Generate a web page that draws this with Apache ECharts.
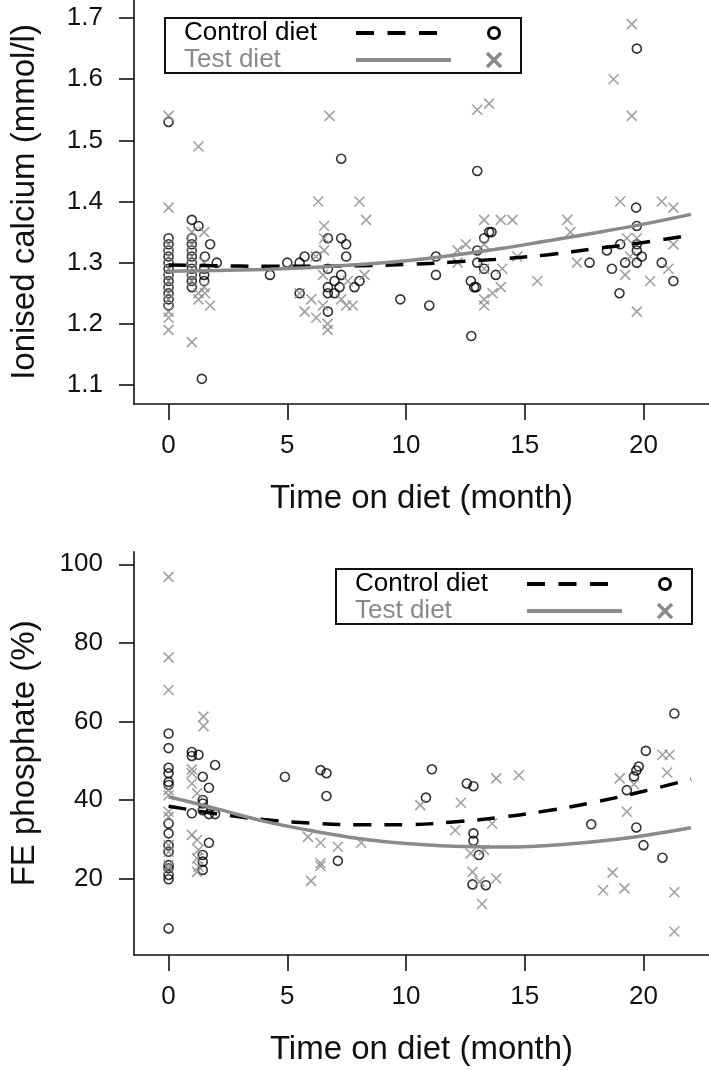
<!DOCTYPE html>
<html><head><meta charset="utf-8">
<script src="https://cdn.jsdelivr.net/npm/echarts@6/dist/echarts.min.js"></script>
<style>html,body{margin:0;padding:0;background:#fff}#c{width:709px;height:1070px}</style>
</head><body><div id="c"></div>
<script>
// ---------- DATA ----------
const xTicks = [0, 5, 10, 15, 20];
const caTicks = [1.1, 1.2, 1.3, 1.4, 1.5, 1.6, 1.7];
const fepTicks = [20, 40, 60, 80, 100];
const seriesNames = ['Control diet', 'Test diet'];
const xTitle = 'Time on diet (month)';
const caTitle = 'Ionised calcium (mmol/l)';
const fepTitle = 'FE phosphate (%)';

// Ionised calcium, control diet (month, mmol/l)
const caControl = [
  [0,1.53],[0,1.34],[0,1.33],[0,1.32],[0,1.31],[0,1.30],[0,1.29],[0,1.28],[0,1.27],[0,1.26],[0,1.25],[0,1.24],[0,1.23],
  [0.98,1.37],[1.26,1.36],[0.98,1.34],[0.98,1.33],[0.98,1.32],[0.98,1.31],[0.98,1.30],[0.98,1.29],[0.98,1.28],[0.98,1.27],[0.98,1.26],
  [1.4,1.11],[1.53,1.31],[1.75,1.33],[2.03,1.30],[1.5,1.29],[1.5,1.28],[1.5,1.27],
  [4.27,1.28],[5.0,1.30],[5.52,1.30],[5.73,1.31],[5.52,1.25],[6.22,1.31],[6.71,1.34],[6.71,1.29],[6.71,1.26],[6.71,1.25],[6.71,1.22],
  [6.99,1.27],[6.99,1.25],[7.27,1.47],[7.27,1.34],[7.48,1.33],[7.48,1.31],[7.27,1.28],[7.2,1.26],[7.83,1.26],[8.04,1.27],
  [9.76,1.24],[10.98,1.23],[11.26,1.28],[11.26,1.31],[12.75,1.18],[12.73,1.27],[12.87,1.26],[12.95,1.26],[13.0,1.32],[13.0,1.30],
  [13.0,1.45],[13.29,1.34],[13.5,1.35],[13.6,1.35],[13.78,1.28],[13.29,1.29],
  [17.73,1.30],[18.46,1.32],[18.67,1.29],[18.99,1.25],[19.02,1.33],[19.23,1.30],[19.72,1.65],[19.69,1.39],[19.72,1.36],
  [19.72,1.33],[19.72,1.32],[19.93,1.31],[19.72,1.30],[20.77,1.30],[21.26,1.27]
];
// Ionised calcium, test diet
const caTest = [
  [0,1.54],[0,1.39],[0,1.33],[0,1.31],[0,1.29],[0,1.27],[0,1.25],[0,1.24],[0,1.22],[0,1.21],[0,1.19],
  [1.26,1.49],[0.98,1.35],[0.98,1.33],[0.98,1.31],[0.98,1.29],[0.98,1.27],[0.98,1.17],[1.26,1.25],[1.26,1.24],
  [1.5,1.35],[1.5,1.30],[1.5,1.26],[1.53,1.25],[1.75,1.23],
  [5.52,1.25],[6.01,1.24],[5.73,1.22],[6.22,1.21],[6.3,1.40],[6.78,1.54],[6.55,1.36],[6.55,1.34],[6.55,1.32],[6.2,1.31],
  [6.5,1.28],[6.5,1.23],[6.7,1.20],[6.7,1.19],[7.27,1.24],[7.48,1.23],[7.76,1.23],[7.55,1.27],[8.25,1.28],[8.04,1.40],[8.32,1.37],
  [12.17,1.32],[12.52,1.33],[12.17,1.30],[13.0,1.55],[13.5,1.56],[13.29,1.37],[13.99,1.37],[14.48,1.37],[13.29,1.33],
  [13.29,1.29],[13.29,1.24],[13.29,1.23],[13.64,1.25],[13.99,1.26],[14.05,1.29],[14.69,1.31],[15.53,1.27],[16.79,1.37],
  [16.92,1.35],[17.2,1.30],
  [18.74,1.60],[19.51,1.69],[19.51,1.54],[19.02,1.40],[19.3,1.34],[19.72,1.34],[19.44,1.31],[19.23,1.28],[19.72,1.22],
  [20.28,1.27],[20.77,1.40],[21.26,1.39],[21.05,1.29],[21.26,1.33]
];
// fitted trends (read at every 2 months)
const fitMonths = [0, 2, 4, 6, 8, 10, 12, 14, 16, 18, 20, 22];
const caControlFit = [1.296, 1.295, 1.294, 1.294, 1.295, 1.297, 1.301, 1.306, 1.313, 1.323, 1.333, 1.345];
const caTestFit    = [1.286, 1.287, 1.289, 1.292, 1.297, 1.303, 1.312, 1.323, 1.336, 1.349, 1.363, 1.379];

// FE phosphate, control diet (month, %)
const fepControl = [
  [0,56.9],[0,53.2],[0,48.2],[0,46.8],[0,44.6],[0,43.8],[0,34.0],[0,31.5],[0,28.5],[0,26.8],[0,23.4],[0,22.6],[0,20.9],[0,19.8],[0,7.3],
  [0.98,52.2],[0.98,51.2],[1.26,51.5],[0.98,36.6],
  [1.44,45.9],[1.44,40.0],[1.44,39.1],[1.44,37.4],[1.44,26.0],[1.44,24.3],[1.44,22.2],[1.7,43.1],[1.7,36.4],[1.7,29.1],[1.96,48.9],[1.96,36.4],
  [4.9,45.9],[6.4,47.6],[6.65,46.8],[6.65,41.0],[7.13,24.5],
  [10.84,40.6],[11.09,47.8],[12.56,44.2],[12.84,43.5],[12.84,31.5],[12.84,29.6],[13.07,26.0],[12.8,18.5],[13.36,18.3],
  [17.8,33.8],[19.3,42.5],[19.6,46.0],[19.7,47.5],[19.8,48.5],[19.7,33.0],[20.0,28.5],[20.1,52.5],[20.8,25.3],[21.3,62.0]
];
// FE phosphate, test diet
const fepTest = [
  [0,96.8],[0,76.3],[0,68.0],[0,42.5],[0,41.2],[0,37.0],[0,35.7],[0,28.5],[0,26.8],[0,23.4],[0,22.6],
  [0.98,47.8],[0.98,46.8],[0.98,44.2],[0.98,31.1],[1.2,29.8],[1.26,27.3],[1.2,25.1],[1.26,23.0],[1.2,21.7],[1.2,41.7],
  [1.47,61.2],[1.47,58.8],
  [5.87,30.6],[6.0,19.4],[6.4,29.1],[6.4,23.9],[6.4,23.2],[7.13,28.1],[8.11,29.1],
  [10.6,38.7],[12.07,32.3],[12.31,39.3],[12.72,26.4],[12.8,21.7],[13.1,19.2],[13.28,27.3],[13.2,13.5],[13.63,34.0],
  [13.8,45.5],[13.8,20.0],[14.75,46.3],
  [18.3,17.0],[18.7,21.5],[19.0,45.5],[19.2,17.5],[19.3,37.0],[19.6,44.0],[20.8,51.5],[21.0,47.0],[21.1,51.5],[21.3,16.5],[21.3,6.5]
];
const fepControlFit = [38.4, 36.5, 35.0, 34.1, 33.7, 33.7, 34.4, 35.6, 37.3, 39.5, 42.2, 45.3];
const fepTestFit    = [40.8, 37.8, 34.6, 32.2, 30.2, 28.9, 28.2, 28.0, 28.4, 29.4, 30.9, 32.9];

// ---------- STYLE ----------
const FONT = 'Liberation Sans, Arial, Helvetica, sans-serif';
const INK = '#111';
const GREY = '#8a8a8a';
const CROSS = 'path://M0,0L10,10M10,0L0,10';

function pairs(xs, ys) { return xs.map((x, i) => [x, ys[i]]); }

function xAxisFor(gi) {
  return {
    type: 'value', gridIndex: gi, min: -1.456, max: 22.76,
    axisLine: { show: true, onZero: false, lineStyle: { color: INK, width: 1.6 } },
    axisTick: { show: true, customValues: xTicks, length: 16, lineStyle: { color: INK, width: 1.6 } },
    axisLabel: { customValues: xTicks, fontSize: 26, color: INK, fontFamily: FONT, margin: 29 },
    splitLine: { show: false },
    name: xTitle, nameLocation: 'middle', nameGap: 78,
    nameTextStyle: { fontSize: 33, color: INK, fontFamily: FONT }
  };
}
function yAxisFor(gi, min, max, ticks, title, fmt) {
  return {
    type: 'value', gridIndex: gi, min: min, max: max,
    axisLine: { show: true, onZero: false, lineStyle: { color: INK, width: 1.6 } },
    axisTick: { show: true, customValues: ticks, length: 15, lineStyle: { color: INK, width: 1.6 } },
    axisLabel: { customValues: ticks, fontSize: 26, color: INK, fontFamily: FONT, margin: 31, formatter: fmt },
    splitLine: { show: false },
    name: title, nameLocation: 'middle', nameGap: 93, nameRotate: 90,
    nameTextStyle: { fontSize: 33, color: INK, fontFamily: FONT }
  };
}
function pointSeries(name, data, xi, yi, isCross) {
  return {
    name: name, type: 'scatter', xAxisIndex: xi, yAxisIndex: yi, data: data, z: isCross ? 3 : 2,
    symbol: isCross ? CROSS : 'circle', symbolSize: isCross ? 10 : 9,
    itemStyle: { color: 'rgba(0,0,0,0)', borderColor: isCross ? GREY : '#000', borderWidth: 1.6 },
    emphasis: { disabled: true }, silent: true
  };
}
function fitSeries(name, ys, xi, yi, dashed) {
  return {
    name: name, type: 'line', xAxisIndex: xi, yAxisIndex: yi, data: pairs(fitMonths, ys), z: 5,
    showSymbol: false, smooth: 0.4, silent: true,
    lineStyle: { color: dashed ? '#000' : GREY, width: 3.5, type: dashed ? [18, 13] : 'solid', cap: 'butt' }
  };
}
function legendGroup(left, top) {
  return {
    type: 'group', left: left, top: top,
    children: [
      { type: 'rect', shape: { x: 0, y: 0, width: 356, height: 55 }, style: { fill: '#fff', stroke: INK, lineWidth: 2 } },
      { type: 'text', x: 19, y: 15, style: { text: seriesNames[0], font: '26px ' + FONT, fill: '#000', verticalAlign: 'middle' } },
      { type: 'text', x: 19, y: 42, style: { text: seriesNames[1], font: '26px ' + FONT, fill: GREY, verticalAlign: 'middle' } },
      { type: 'line', shape: { x1: 191, y1: 15, x2: 275, y2: 15 }, style: { stroke: '#000', lineWidth: 4, lineDash: [18, 13.5] } },
      { type: 'line', shape: { x1: 191, y1: 42, x2: 286, y2: 42 }, style: { stroke: GREY, lineWidth: 4 } },
      { type: 'circle', shape: { cx: 329, cy: 15, r: 5.5 }, style: { fill: 'none', stroke: '#000', lineWidth: 3 } },
      { type: 'polyline', shape: { points: [[322, 35], [336, 49]] }, style: { stroke: GREY, lineWidth: 3.5, fill: null } },
      { type: 'polyline', shape: { points: [[336, 35], [322, 49]] }, style: { stroke: GREY, lineWidth: 3.5, fill: null } }
    ]
  };
}

const chart = echarts.init(document.getElementById('c'), null, { renderer: 'canvas' });
chart.setOption({
  animation: false,
  backgroundColor: '#fff',
  grid: [
    { left: 132, top: 0, width: 577, height: 404 },
    { left: 132, top: 551.7, width: 577, height: 403.3 }
  ],
  xAxis: [xAxisFor(0), xAxisFor(1)],
  yAxis: [
    yAxisFor(0, 1.0689, 1.7295, caTicks, caTitle, v => v.toFixed(1)),
    yAxisFor(1, 0.53, 103.2, fepTicks, fepTitle, v => String(v))
  ],
  series: [
    pointSeries(seriesNames[0], caControl, 0, 0, false),
    pointSeries(seriesNames[1], caTest, 0, 0, true),
    fitSeries(seriesNames[0], caControlFit, 0, 0, true),
    fitSeries(seriesNames[1], caTestFit, 0, 0, false),
    pointSeries(seriesNames[0], fepControl, 1, 1, false),
    pointSeries(seriesNames[1], fepTest, 1, 1, true),
    fitSeries(seriesNames[0], fepControlFit, 1, 1, true),
    fitSeries(seriesNames[1], fepTestFit, 1, 1, false)
  ],
  graphic: [legendGroup(164, 17), legendGroup(335, 568)]
});
</script>
</body></html>
